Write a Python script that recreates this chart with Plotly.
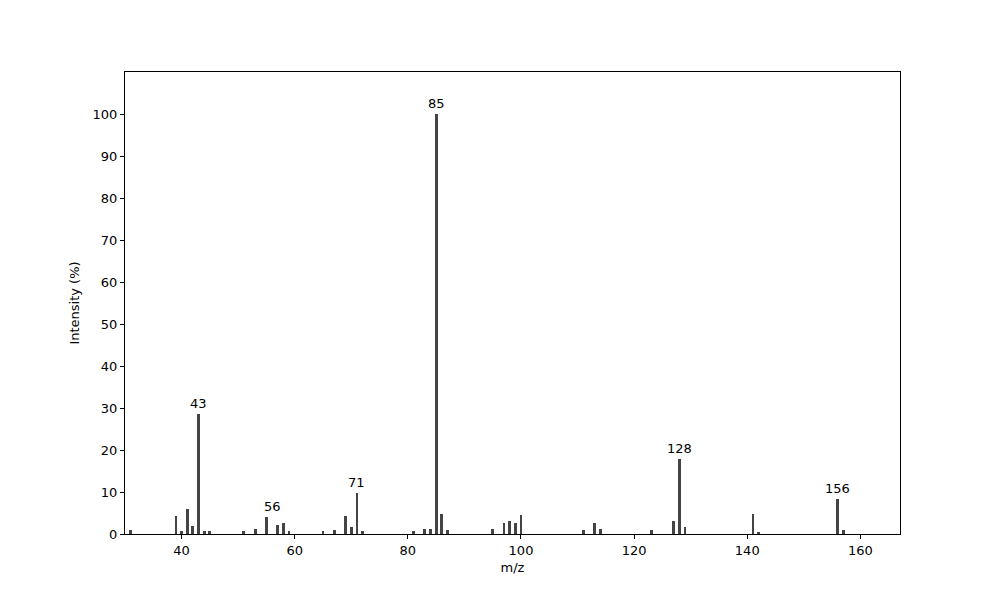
import plotly.graph_objects as go

# ========== data: m/z peaks ==========
mz = [31, 39, 40, 41, 42, 43, 44, 45, 51, 53, 55, 57, 58, 59,
      65, 67, 69, 70, 71, 72, 81, 83, 84, 85, 86, 87,
      95, 97, 98, 99, 100, 111, 113, 114, 123, 127, 128, 129,
      141, 142, 156, 157]
intensity = [1.0, 4.3, 0.8, 6.0, 1.9, 28.6, 0.8, 0.6, 0.7, 1.2, 4.0, 2.1, 2.6, 0.8,
             0.7, 1.0, 4.3, 1.7, 9.8, 0.7, 0.7, 1.2, 1.2, 100.0, 4.8, 1.0,
             1.2, 2.6, 3.1, 2.6, 4.5, 1.0, 2.6, 1.2, 1.0, 3.1, 17.9, 1.7,
             4.8, 0.5, 8.3, 1.0]

# labelled peaks
label_mz = [43, 56, 71, 85, 128, 156]
label_y = [28.6, 4.0, 9.8, 100.0, 17.9, 8.3]

font = dict(family='DejaVu Sans', size=13, color='black')

fig = go.Figure()
fig.add_trace(go.Bar(
    x=mz, y=intensity, width=0.5,
    marker=dict(color='#444444', line=dict(width=0)),
    showlegend=False
))

for m, h in zip(label_mz, label_y):
    fig.add_annotation(
        x=m, y=h, text=str(m), showarrow=False,
        yanchor='bottom', yshift=1, font=font
    )

axis_style = dict(
    showline=True, linecolor='black', linewidth=1, mirror=True,
    ticks='outside', ticklen=4, tickcolor='black', tickwidth=1,
    showgrid=False, zeroline=False, tickfont=font
)

# page body adds ~8px offset, margins compensate
fig.update_layout(
    width=1000, height=600,
    margin=dict(l=117, r=108, t=64, b=74),
    paper_bgcolor='white', plot_bgcolor='white',
    font=font, bargap=0,
    xaxis=dict(range=[30, 167], tickvals=[40, 60, 80, 100, 120, 140, 160],
               title=dict(text='m/z', font=font, standoff=6), **axis_style),
    yaxis=dict(range=[0, 110], tickvals=list(range(0, 101, 10)),
               title=dict(text='Intensity (%)', font=font, standoff=10), **axis_style),
)

fig.write_html('out.html')
